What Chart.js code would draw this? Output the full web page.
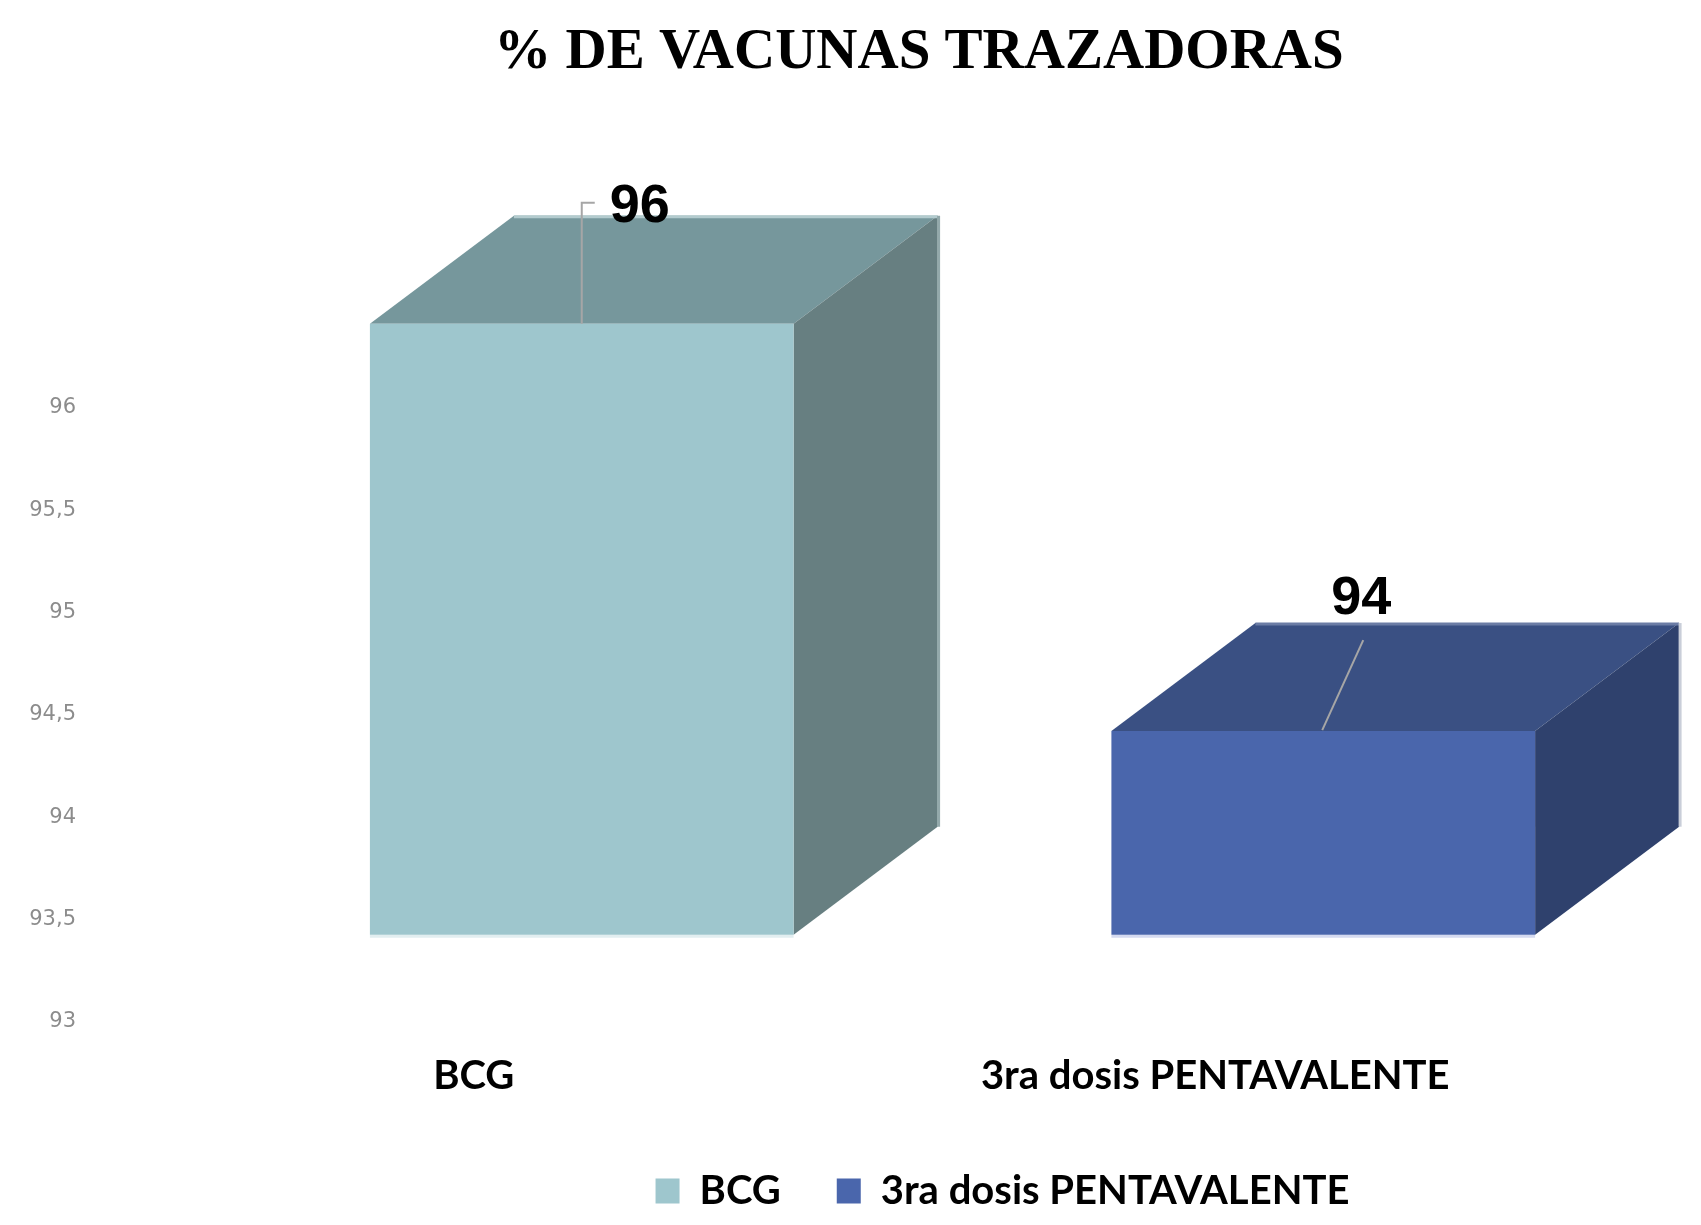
<!DOCTYPE html>
<html><head><meta charset="utf-8">
<script src="https://cdn.jsdelivr.net/npm/chart.js@4.4.1/dist/chart.umd.min.js"></script>
<style>html,body{margin:0;padding:0;background:#fff;} #wrap{width:1701px;height:1225px;}</style>
</head><body><div id="wrap"><canvas id="c" width="1701" height="1225"></canvas></div>
<script>
// ---- data ----
const titleText = '% DE VACUNAS TRAZADORAS';
const categories = ['BCG', '3ra dosis PENTAVALENTE'];
const seriesNames = ['BCG', '3ra dosis PENTAVALENTE'];
const bcgValues = [96, null];
const pentaValues = [null, 94];
const yTickValues = [93, 93.5, 94, 94.5, 95, 95.5, 96];
const baseValue = 93;

// ---- styles ----
const frontColors = ['#9EC6CD', '#4A66AC'];
const topColors = ['#76979C', '#3A5083'];
const sideColors = ['#677F81', '#2F416D'];
const topEdgeColors = ['#B3CBCE', '#6B7CA5'];
const sideEdgeColors = ['#93A9AB', '#C9CED9'];
const bottomEdgeColors = ['#E2EEF0', '#D5DAF0'];
const narrowFont = "Lato, 'Liberation Sans', sans-serif";

const bar3d = {
  id: 'bar3d',
  beforeDatasetsDraw(chart, args, opts) {
    const ctx = chart.ctx;
    chart.data.datasets.forEach((ds, di) => {
      const meta = chart.getDatasetMeta(di);
      meta.data.forEach((el, i) => {
        if (ds.data[i] === null || ds.data[i] === undefined) return;
        const {x, y, base, width} = el.getProps(['x', 'y', 'base', 'width'], true);
        const l = x - width / 2, r = x + width / 2;
        const dx = opts.depthX, dy = opts.depthY;
        ctx.save();
        ctx.fillStyle = topColors[di];
        ctx.beginPath(); ctx.moveTo(l, y); ctx.lineTo(l + dx, y + dy); ctx.lineTo(r + dx, y + dy); ctx.lineTo(r, y); ctx.closePath(); ctx.fill();
        ctx.fillStyle = sideColors[di];
        ctx.beginPath(); ctx.moveTo(r, y); ctx.lineTo(r + dx, y + dy); ctx.lineTo(r + dx, base + dy); ctx.lineTo(r, base); ctx.closePath(); ctx.fill();
        ctx.lineWidth = 3;
        ctx.strokeStyle = topEdgeColors[di];
        ctx.beginPath(); ctx.moveTo(l + dx, y + dy + 1); ctx.lineTo(r + dx, y + dy + 1); ctx.stroke();
        ctx.strokeStyle = sideEdgeColors[di];
        ctx.beginPath(); ctx.moveTo(r + dx + 1, y + dy); ctx.lineTo(r + dx + 1, base + dy); ctx.stroke();
        ctx.strokeStyle = bottomEdgeColors[di];
        ctx.beginPath(); ctx.moveTo(l, base + 1.5); ctx.lineTo(r, base + 1.5); ctx.stroke();
        ctx.restore();
      });
    });
  },
  afterDatasetsDraw(chart, args, opts) {
    const ctx = chart.ctx;
    chart.data.datasets.forEach((ds, di) => {
      const meta = chart.getDatasetMeta(di);
      meta.data.forEach((el, i) => {
        const v = ds.data[i];
        if (v === null || v === undefined) return;
        const {x, y} = el.getProps(['x', 'y'], true);
        const lay = opts.labels[di];
        ctx.save();
        ctx.strokeStyle = '#A6A6A6';
        ctx.lineWidth = 2;
        ctx.beginPath();
        lay.leader.forEach((p, k) => { if (k === 0) ctx.moveTo(x + p[0], y + p[1]); else ctx.lineTo(x + p[0], y + p[1]); });
        ctx.stroke();
        ctx.fillStyle = '#000';
        ctx.font = "bold 54px 'Liberation Sans', Arial, sans-serif";
        ctx.textAlign = 'center';
        ctx.textBaseline = 'middle';
        ctx.fillText(String(v), x + lay.text[0], y + lay.text[1]);
        ctx.restore();
      });
    });
  }
};

const shiftBoxes = {
  id: 'shiftBoxes',
  afterLayout(chart, args, opts) {
    const t = chart.titleBlock;
    if (t) { t.left += opts.titleShift; t.right += opts.titleShift; }
    const L = chart.legend;
    if (L && L.lineWidths) {
      const P = L.options.labels.padding;
      const lw = L.lineWidths[0];
      const cur = (L.left + P + L.right - lw) / 2;
      const want = opts.legendCenter - (lw - P) / 2;
      const s = want - cur;
      L.left += s; L.right += s;
    }
  }
};

new Chart(document.getElementById('c'), {
  type: 'bar',
  data: {
    labels: categories,
    datasets: [
      { label: seriesNames[0], data: bcgValues, backgroundColor: frontColors[0], borderWidth: 0,
        yAxisID: 'yb', base: baseValue, grouped: false, clip: false, barPercentage: 0.5714, categoryPercentage: 1 },
      { label: seriesNames[1], data: pentaValues, backgroundColor: frontColors[1], borderWidth: 0,
        yAxisID: 'yb', base: baseValue, grouped: false, clip: false, barPercentage: 0.5714, categoryPercentage: 1 }
    ]
  },
  options: {
    responsive: false,
    animation: false,
    devicePixelRatio: 1,
    layout: { padding: { top: 0, left: 0, right: 7, bottom: 4 } },
    scales: {
      x: {
        grid: { display: false, drawTicks: false },
        border: { display: false },
        ticks: { padding: 30, labelOffset: -108, maxRotation: 0, autoSkip: false, color: '#000',
                 font: { family: narrowFont, size: 40, weight: 'bold' } },
        afterFit(s) { s.height = 93; }
      },
      y: {
        position: 'left', min: 93, max: 96,
        grid: { display: false, drawTicks: false },
        border: { display: false },
        afterBuildTicks(s) { s.ticks = yTickValues.map(v => ({ value: v })); },
        ticks: { padding: 135, color: '#8C8C8C', font: { family: 'DejaVu Sans', size: 21 },
                 callback: v => String(v).replace('.', ',') },
        afterFit(s) { s.width = 211; }
      },
      yb: { display: false, position: 'left', min: 92.5714, max: 95.5862 }
    },
    plugins: {
      title: { display: true, text: titleText, color: '#000',
               font: { family: "'Liberation Serif', 'Times New Roman', serif", size: 57, weight: 'bold' },
               padding: { top: 19, bottom: 320.6 } },
      legend: { position: 'bottom',
                labels: { boxWidth: 24, boxHeight: 25, padding: 56, color: '#000',
                          font: { family: narrowFont, size: 40, weight: 'bold' } } },
      tooltip: { enabled: false },
      bar3d: { depthX: 144, depthY: -108,
               labels: [ { text: [58, -117], leader: [[0, 0], [0, -121], [13, -121]] },
                         { text: [38, -132], leader: [[-1, -1], [40, -91]] } ] },
      shiftBoxes: { titleShift: 72, legendCenter: 1002.5 }
    }
  },
  plugins: [bar3d, shiftBoxes]
});
</script>
</body></html>
